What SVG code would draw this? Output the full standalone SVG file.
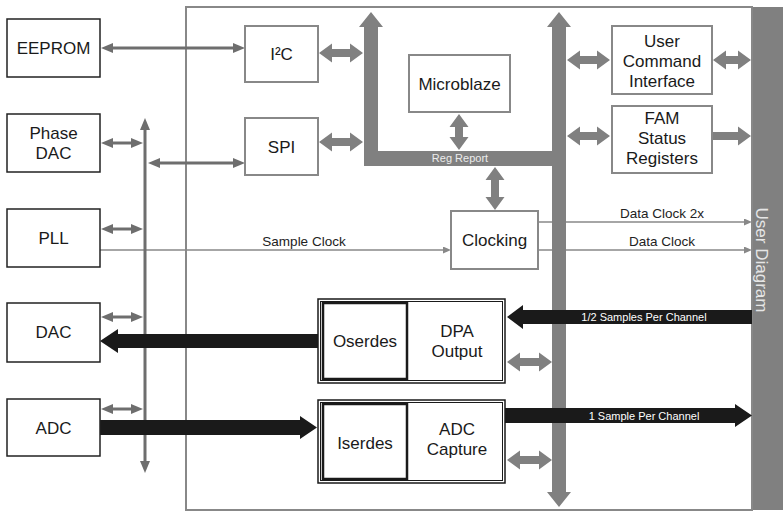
<svg xmlns="http://www.w3.org/2000/svg" width="783" height="512" viewBox="0 0 783 512">
<style>
text{font-family:"Liberation Sans",Arial,sans-serif;text-anchor:middle}
.nt{font-size:17px;fill:#1a1a1a}
.lbl{font-size:13.5px;fill:#222}
.wl{font-size:11px;fill:#ffffff}
.ext{fill:#fff;stroke:#222;stroke-width:1.5}
.int{fill:#fff;stroke:#888;stroke-width:2}
.dbl{fill:#fff;stroke:#1a1a1a;stroke-width:1.5}
.ser{fill:#fff;stroke:#1a1a1a;stroke-width:2.5}
.thin{stroke:#6e6e6e;stroke-width:3;fill:none}
.clk{stroke:#888;stroke-width:1.5;fill:none}
.bus{fill:#808080}
.blk{fill:#1a1a1a}
</style>
<defs>
<marker id="ah" viewBox="0 0 12 10" refX="3" refY="5" markerWidth="12" markerHeight="10" markerUnits="userSpaceOnUse" orient="auto-start-reverse"><path d="M0,0 L12,5 L0,10 z" fill="#6e6e6e"/></marker>
<marker id="sh" viewBox="0 0 8 7" refX="2" refY="3.5" markerWidth="8" markerHeight="7" markerUnits="userSpaceOnUse" orient="auto"><path d="M0,0 L8,3.5 L0,7 z" fill="#888"/></marker>
</defs>
<rect width="783" height="512" fill="#fff"/>
<g id="fpga-container">
<rect x="186" y="7" width="566" height="503" fill="none" stroke="#888" stroke-width="2"/>
</g>
<g id="user-diagram">
<rect x="753" y="7" width="30" height="503" fill="#808080"/>
<text transform="translate(756,260) rotate(90)" style="font-size:17px;fill:#e6e6e6">User Diagram</text>
</g>
<g id="connectors">
<line class="clk" x1="100" y1="250" x2="445" y2="250" marker-end="url(#sh)"/>
<line class="clk" x1="538" y1="222" x2="746" y2="222" marker-end="url(#sh)"/>
<line class="clk" x1="538" y1="250" x2="746" y2="250" marker-end="url(#sh)"/>
<text class="lbl" x="304" y="246">Sample Clock</text>
<text class="lbl" x="662" y="218">Data Clock 2x</text>
<text class="lbl" x="662" y="246">Data Clock</text>
<line class="thin" x1="110" y1="48" x2="236" y2="48" marker-start="url(#ah)" marker-end="url(#ah)"/>
<line class="thin" x1="110" y1="143" x2="134" y2="143" marker-start="url(#ah)" marker-end="url(#ah)"/>
<line class="thin" x1="157" y1="163" x2="236" y2="163" marker-start="url(#ah)" marker-end="url(#ah)"/>
<line class="thin" x1="110" y1="229" x2="134" y2="229" marker-start="url(#ah)" marker-end="url(#ah)"/>
<line class="thin" x1="110" y1="317" x2="134" y2="317" marker-start="url(#ah)" marker-end="url(#ah)"/>
<line class="thin" x1="110" y1="409" x2="134" y2="409" marker-start="url(#ah)" marker-end="url(#ah)"/>
<line class="thin" x1="145" y1="127" x2="145" y2="464" marker-start="url(#ah)" marker-end="url(#ah)"/>
<polygon class="bus" points="371,12 383,27 378,27 378,151 552,151 552,166 364,166 364,27 359,27"/>
<polygon class="bus" points="559,12 571,27 566,27 566,492 571,492 559,507 547,492 552,492 552,27 547,27"/>
<text class="wl" x="460" y="162" style="fill:#ececec">Reg Report</text>
<polygon class="bus" points="319,53 332,43.5 332,49 350,49 350,43.5 363,53 350,62.5 350,57 332,57 332,62.5"/>
<polygon class="bus" points="319,142 332,132.5 332,138 350,138 350,132.5 363,142 350,151.5 350,146 332,146 332,151.5"/>
<polygon class="bus" points="567,60 580,50.5 580,56 597,56 597,50.5 610,60 597,69.5 597,64 580,64 580,69.5"/>
<polygon class="bus" points="713,60 726,50.5 726,56 738,56 738,50.5 751,60 738,69.5 738,64 726,64 726,69.5"/>
<polygon class="bus" points="567,136 580,126.5 580,132 597,132 597,126.5 610,136 597,145.5 597,140 580,140 580,145.5"/>
<polygon class="bus" points="713,132 738,132 738,126.5 751,136 738,145.5 738,140 713,140"/>
<polygon class="bus" points="507,362 520,352.5 520,358 539,358 539,352.5 552,362 539,371.5 539,366 520,366 520,371.5"/>
<polygon class="bus" points="507,460 520,450.5 520,456 539,456 539,450.5 552,460 539,469.5 539,464 520,464 520,469.5"/>
<polygon class="bus" points="459,114 468.5,127 463,127 463,137 468.5,137 459,150 449.5,137 455,137 455,127 449.5,127"/>
<polygon class="bus" points="495,167 504.5,180 499,180 499,197 504.5,197 495,210 485.5,197 491,197 491,180 485.5,180"/>
<polygon class="blk" points="100,341 118,329 118,334 318,334 318,348 118,348 118,353"/>
<polygon class="blk" points="100,420 300,420 300,416 317,427.5 300,439 300,435 100,435"/>
<polygon class="blk" points="507,317 523,305 523,310 752,310 752,324 523,324 523,329"/>
<polygon class="blk" points="505,408 735,408 735,404 752,415.5 735,427 735,423 505,423"/>
<text class="wl" x="644" y="321">1/2 Samples Per Channel</text>
<text class="wl" x="644" y="420">1 Sample Per Channel</text>
</g>
<g id="eeprom"><rect class="ext" x="7" y="19" width="93" height="58"/><text class="nt" x="53.5" y="54">EEPROM</text></g>
<g id="phase-dac"><rect class="ext" x="7" y="114" width="93" height="58"/><text class="nt" x="53.5" y="138.5">Phase</text><text class="nt" x="53.5" y="159">DAC</text></g>
<g id="pll"><rect class="ext" x="7" y="209" width="93" height="58"/><text class="nt" x="53.5" y="244">PLL</text></g>
<g id="dac"><rect class="ext" x="7" y="303" width="93" height="59"/><text class="nt" x="53.5" y="338">DAC</text></g>
<g id="adc"><rect class="ext" x="7" y="399" width="93" height="57"/><text class="nt" x="53.5" y="434">ADC</text></g>
<g id="i2c"><rect class="int" x="245" y="26" width="73" height="56"/><text class="nt" x="281.5" y="60">I²C</text></g>
<g id="spi"><rect class="int" x="245" y="118" width="73" height="57"/><text class="nt" x="281.5" y="153">SPI</text></g>
<g id="microblaze"><rect class="int" x="409" y="55" width="101" height="57"/><text class="nt" x="459.5" y="90">Microblaze</text></g>
<g id="user-command-interface"><rect class="int" x="612" y="26" width="100" height="68"/><text class="nt" x="662" y="46.5">User</text><text class="nt" x="662" y="67">Command</text><text class="nt" x="662" y="87">Interface</text></g>
<g id="fam-status-registers"><rect class="int" x="612" y="106" width="100" height="67"/><text class="nt" x="662" y="124">FAM</text><text class="nt" x="662" y="144">Status</text><text class="nt" x="662" y="164">Registers</text></g>
<g id="clocking"><rect class="int" x="451" y="211" width="87" height="58"/><text class="nt" x="494.5" y="246">Clocking</text></g>
<g id="dpa-output"><rect class="dbl" x="318" y="299" width="187" height="84"/><rect x="320.5" y="301.5" width="182" height="79" fill="none" stroke="#1a1a1a" stroke-width="1"/><rect class="ser" x="323" y="303" width="84" height="76"/><text class="nt" x="365" y="347">Oserdes</text><text class="nt" x="457" y="337">DPA</text><text class="nt" x="457" y="357">Output</text></g>
<g id="adc-capture"><rect class="dbl" x="318" y="400" width="187" height="83"/><rect x="320.5" y="402.5" width="182" height="78" fill="none" stroke="#1a1a1a" stroke-width="1"/><rect class="ser" x="323" y="404" width="84" height="75"/><text class="nt" x="365" y="449">Iserdes</text><text class="nt" x="457" y="435">ADC</text><text class="nt" x="457" y="455">Capture</text></g>
</svg>
